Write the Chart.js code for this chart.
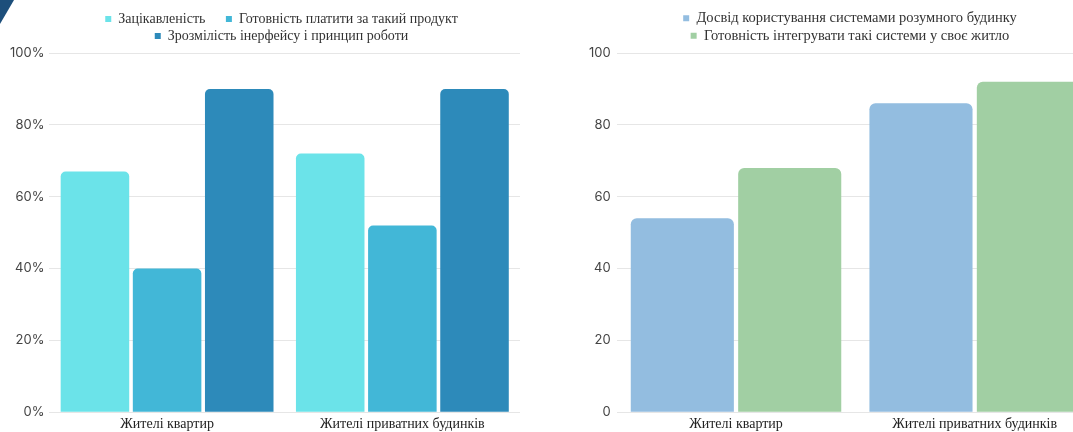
<!DOCTYPE html>
<html>
<head>
<meta charset="utf-8">
<script src="https://cdn.jsdelivr.net/npm/chart.js@4.4.1/dist/chart.umd.min.js"></script>
<style>
  html, body { margin: 0; padding: 0; background: #fff; overflow: hidden; }
  body { width: 1073px; height: 432px; position: relative; }
  .box { position: absolute; top: 0; height: 432px; }
  #leftBox { left: 0; width: 566px; }
  #rightBox { left: 583px; width: 542px; }
  .corner { position: absolute; left: 0; top: 0; width: 14px; height: 24px;
            background: #1d4f7b; clip-path: polygon(0 0, 100% 0, 0 100%); }
</style>
</head>
<body>
<div class="corner"></div>
<div class="box" id="leftBox"><canvas id="leftChart"></canvas></div>
<div class="box" id="rightBox"><canvas id="rightChart"></canvas></div>
<script>
// ліва діаграма
const groupsLeft = ['Жителі квартир', 'Жителі приватних будинків'];
const interestVals = [67, 72];
const payVals = [40, 52];
const clarityVals = [90, 90];
const leftTicks = [0, 20, 40, 60, 80, 100];

// права діаграма
const groupsRight = ['Жителі квартир', 'Жителі приватних будинків'];
const experienceVals = [54, 86];
const readinessVals = [68, 92];
const rightTicks = [0, 20, 40, 60, 80, 100];

const serif = '"Liberation Serif", "DejaVu Serif", serif';
const sans = 'Inter, "Noto Sans", sans-serif';

function legendOpts(size, gapAfterFirst) {
    return {
        display: true,
        position: 'top',
        labels: {
            usePointStyle: true,
            pointStyle: 'rect',
            boxWidth: 6,
            boxHeight: 6,
            padding: 3,
            color: '#333',
            font: { family: serif, size: size },
            generateLabels: (chart) => {
                const items = Chart.defaults.plugins.legend.labels.generateLabels(chart);
                // трохи більше місця між першим і другим пунктом
                if (gapAfterFirst) items[0].text += '     ';
                return items;
            }
        }
    };
}

function xOpts() {
    return {
        grid: { display: false, drawTicks: false },
        border: { display: false },
        ticks: { color: '#222', padding: 4, font: { family: serif, size: 14 } }
    };
}

function yOpts(tickVals, suffix, pad) {
    return {
        min: 0,
        max: 100,
        afterBuildTicks: (axis) => { axis.ticks = tickVals.map(v => ({ value: v })); },
        grid: { color: '#e6e6e6', lineWidth: 1, drawTicks: false },
        border: { display: false },
        ticks: {
            color: '#444',
            padding: pad,
            font: { family: sans, size: 13 },
            callback: (v) => v + suffix
        }
    };
}

function spacer(w) {
    return {
        position: 'right',
        display: true,
        grid: { display: false },
        border: { display: false },
        ticks: { display: false },
        afterFit: (s) => { s.width = w; }
    };
}

new Chart(document.getElementById('leftChart').getContext('2d'), {
    type: 'bar',
    data: {
        labels: groupsLeft,
        datasets: [
            { label: 'Зацікавленість', data: interestVals, backgroundColor: '#6be3e9' },
            { label: 'Готовність платити за такий продукт', data: payVals, backgroundColor: '#42b7d7' },
            { label: 'Зрозмілість інерфейсу і принцип роботи', data: clarityVals, backgroundColor: '#2d8aba' }
        ]
    },
    options: {
        responsive: true,
        maintainAspectRatio: false,
        animation: false,
        layout: { padding: { left: 5, right: 8, top: 9, bottom: -5 } },
        datasets: {
            bar: {
                categoryPercentage: 0.92,
                barPercentage: 0.95,
                borderRadius: { topLeft: 5, topRight: 5 },
                borderSkipped: 'bottom'
            }
        },
        scales: {
            x: xOpts(),
            y: yOpts(leftTicks, '%', 5),
            y2: spacer(38)
        },
        plugins: {
            legend: legendOpts(14, true),
            tooltip: { enabled: false }
        }
    }
});

new Chart(document.getElementById('rightChart').getContext('2d'), {
    type: 'bar',
    data: {
        labels: groupsRight,
        datasets: [
            { label: 'Досвід користування системами розумного будинку', data: experienceVals, backgroundColor: '#93bde0' },
            { label: 'Готовність інтегрувати такі системи у своє житло', data: readinessVals, backgroundColor: '#a1cfa3' }
        ]
    },
    options: {
        responsive: true,
        maintainAspectRatio: false,
        animation: false,
        layout: { padding: { left: 0, right: 8, top: 8, bottom: -5 } },
        datasets: {
            bar: {
                categoryPercentage: 0.9,
                barPercentage: 0.96,
                borderRadius: { topLeft: 6, topRight: 6 },
                borderSkipped: 'bottom'
            }
        },
        scales: {
            x: xOpts(),
            y: yOpts(rightTicks, '', 6),
            y2: spacer(23)
        },
        plugins: {
            legend: legendOpts(14.5, false),
            tooltip: { enabled: false }
        }
    }
});
</script>
</body>
</html>
